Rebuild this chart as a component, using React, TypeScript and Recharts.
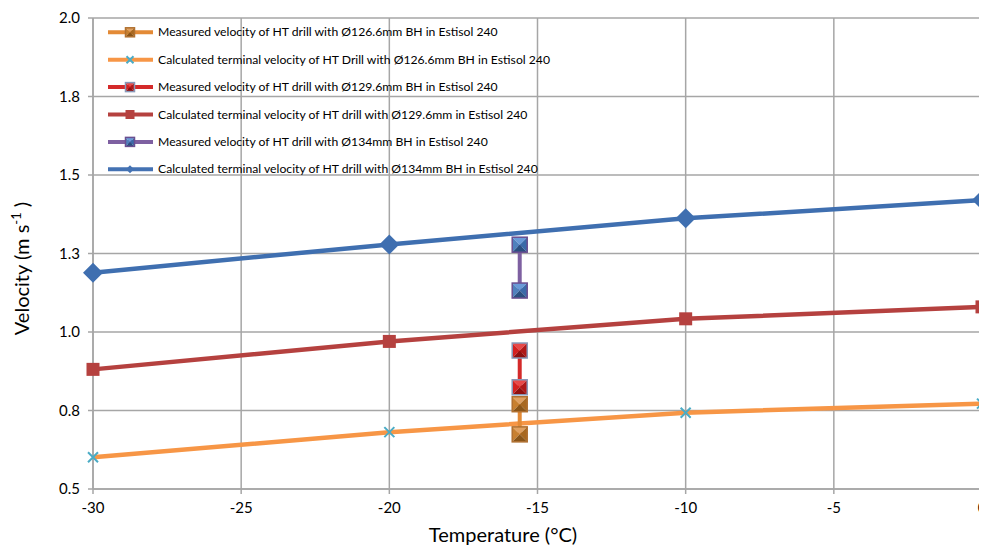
import { LineChart, Line, XAxis, YAxis, CartesianGrid, Legend } from 'recharts';

// Temperatures (°C) where the terminal velocity was calculated
const calcTemps = [-30, -20, -10, 0];
const calc126 = [0.601, 0.681, 0.743, 0.772];
const calc129 = [0.881, 0.970, 1.042, 1.080];
const calc134 = [1.189, 1.279, 1.362, 1.420];

// Measured velocities, all at one temperature
const measTemps = [-15.6, -15.6];
const meas126 = [0.770, 0.674];
const meas129 = [0.941, 0.824];
const meas134 = [1.278, 1.132];

const xTicks = [-30, -25, -20, -15, -10, -5, 0];
const yTicks = [0.5, 0.75, 1.0, 1.25, 1.5, 1.75, 2.0];

const legendLabels = [
  'Measured velocity of HT drill with Ø126.6mm BH in Estisol 240',
  'Calculated terminal velocity of HT Drill with Ø126.6mm BH in Estisol 240',
  'Measured velocity of HT drill with Ø129.6mm BH in Estisol 240',
  'Calculated terminal velocity of HT drill with Ø129.6mm in Estisol 240',
  'Measured velocity of HT drill with Ø134mm BH in Estisol 240',
  'Calculated terminal velocity of HT drill with Ø134mm BH in Estisol 240',
];

const toPts = (xs: number[], ys: number[]) => xs.map((t, i) => ({ t, v: ys[i] }));

const FONT = 'Lato, "Open Sans", sans-serif';
const GRID = '#a6a6a6';

// bevelled "pyramid" square used by Excel for the measured points
const Pyramid = (cx: number, cy: number, s: number, c: { top: string; left: string; right: string; bottom: string; border: string }) => {
  const x0 = cx - s, x1 = cx + s, y0 = cy - s, y1 = cy + s;
  return (
    <g>
      <polygon points={`${x0},${y0} ${x1},${y0} ${cx},${cy}`} fill={c.top} />
      <polygon points={`${x0},${y0} ${x0},${y1} ${cx},${cy}`} fill={c.left} />
      <polygon points={`${x1},${y0} ${x1},${y1} ${cx},${cy}`} fill={c.right} />
      <polygon points={`${x0},${y1} ${x1},${y1} ${cx},${cy}`} fill={c.bottom} />
      <rect x={x0} y={y0} width={2 * s} height={2 * s} fill="none" stroke={c.border} strokeWidth={1.5} />
    </g>
  );
};

const orangeSq = { top: '#e0a060', left: '#c88030', right: '#a86820', bottom: '#8a5518', border: '#b07030' };
const redSq = { top: '#e84848', left: '#d42020', right: '#b01818', bottom: '#901010', border: '#8898b8' };
const blueSq = { top: '#6a9ad8', left: '#4f81bd', right: '#3a6aa8', bottom: '#2a4f80', border: '#6a4f90' };

const Diamond = (cx: number, cy: number, r: number, fill: string) => (
  <polygon points={`${cx},${cy - r} ${cx + r},${cy} ${cx},${cy + r} ${cx - r},${cy}`} fill={fill} />
);
const Square = (cx: number, cy: number, r: number, fill: string) => (
  <rect x={cx - r} y={cy - r} width={2 * r} height={2 * r} fill={fill} />
);
const Cross = (cx: number, cy: number, r: number, stroke: string) => (
  <path d={`M${cx - r},${cy - r}L${cx + r},${cy + r}M${cx + r},${cy - r}L${cx - r},${cy + r}`} stroke={stroke} strokeWidth={2} />
);

const legendItems = [
  { color: '#e38a36', icon: (x: number, y: number) => Pyramid(x, y, 4.5, orangeSq) },
  { color: '#f79646', icon: (x: number, y: number) => Cross(x, y, 3.5, '#4bacc6') },
  { color: '#d42a2a', icon: (x: number, y: number) => Pyramid(x, y, 4.5, redSq) },
  { color: '#b5413f', icon: (x: number, y: number) => Square(x, y, 4.5, '#b5413f') },
  { color: '#7e60a1', icon: (x: number, y: number) => Pyramid(x, y, 4.5, blueSq) },
  { color: '#4472b3', icon: (x: number, y: number) => Diamond(x, y, 4, '#4472b3') },
];

const renderLegend = () => (
  <svg width={560} height={180} style={{ display: 'block' }}>
    {legendItems.map((it, i) => {
      const y = 24.3 + i * 27.4;
      return (
        <g key={i}>
          <line x1={100} x2={145} y1={y} y2={y} stroke={it.color} strokeWidth={4} />
          {it.icon(122, y)}
          <text x={150} y={y + 4} fontSize={12.2} fontFamily={FONT} fill="#000">{legendLabels[i]}</text>
        </g>
      );
    })}
  </svg>
);

const YLabel = (props: any) => {
  const vb = props.viewBox;
  const cx = vb.x + 21;
  const cy = vb.y + vb.height / 2 + 15;
  return (
    <text transform={`translate(${cx},${cy}) rotate(-90)`} textAnchor="middle" fontSize={20} fontFamily={FONT} fill="#000">
      Velocity (m s<tspan fontSize={13} dy={-8}>-1</tspan><tspan dy={8}> )</tspan>
    </text>
  );
};

const XLabel = (props: any) => {
  const vb = props.viewBox;
  return (
    <text x={495} y={vb.y + 53} textAnchor="middle" fontSize={20} fontFamily={FONT} fill="#000">
      Temperature (°C)
    </text>
  );
};

export default function App() {
  return (
    <LineChart width={979} height={540} margin={{ top: 10, right: 5, left: 0, bottom: 0 }}>
      <CartesianGrid stroke={GRID} strokeWidth={1.5} />
      <XAxis
        type="number"
        dataKey="t"
        domain={[-30, 0]}
        ticks={xTicks}
        interval={0}
        height={59}
        stroke={GRID}
        strokeWidth={1.5}
        tickSize={5}
        tickMargin={8}
        tick={{ fill: '#000', fontSize: 15, fontFamily: FONT }}
        label={<XLabel />}
      />
      <YAxis
        type="number"
        domain={[0.5, 2.0]}
        ticks={yTicks}
        interval={0}
        width={85}
        stroke={GRID}
        strokeWidth={1.5}
        tickSize={5}
        tickMargin={8}
        tickFormatter={(v: number) => v.toFixed(1)}
        tick={{ fill: '#000', fontSize: 15, fontFamily: FONT }}
        label={<YLabel />}
      />
      <Legend
        layout="horizontal"
        verticalAlign="middle"
        align="center"
        content={renderLegend}
        wrapperStyle={{ top: 0, left: 0, width: 560 }}
      />

      <Line data={toPts(calcTemps, calc126)} dataKey="v" stroke="#f79646" strokeWidth={4.5} isAnimationActive={false}
        dot={(p: any) => <g key={p.index}>{Cross(p.cx, p.cy, 5, '#4bacc6')}</g>} />
      <Line data={toPts(calcTemps, calc129)} dataKey="v" stroke="#b5413f" strokeWidth={4.5} isAnimationActive={false}
        dot={(p: any) => <g key={p.index}>{Square(p.cx, p.cy, 6.5, '#b5413f')}</g>} />
      <Line data={toPts(calcTemps, calc134)} dataKey="v" stroke="#3f6fb0" strokeWidth={4.5} isAnimationActive={false}
        dot={(p: any) => <g key={p.index}>{Diamond(p.cx, p.cy, 10, '#3f6fb0')}</g>} />

      <Line data={toPts(measTemps, meas126)} dataKey="v" stroke="#e38a36" strokeWidth={4} isAnimationActive={false}
        dot={(p: any) => <g key={p.index}>{Pyramid(p.cx, p.cy, 7.5, orangeSq)}</g>} />
      <Line data={toPts(measTemps, meas129)} dataKey="v" stroke="#d42a2a" strokeWidth={4} isAnimationActive={false}
        dot={(p: any) => <g key={p.index}>{Pyramid(p.cx, p.cy, 7.5, redSq)}</g>} />
      <Line data={toPts(measTemps, meas134)} dataKey="v" stroke="#7e60a1" strokeWidth={4} isAnimationActive={false}
        dot={(p: any) => <g key={p.index}>{Pyramid(p.cx, p.cy, 7.5, blueSq)}</g>} />
    </LineChart>
  );
}
